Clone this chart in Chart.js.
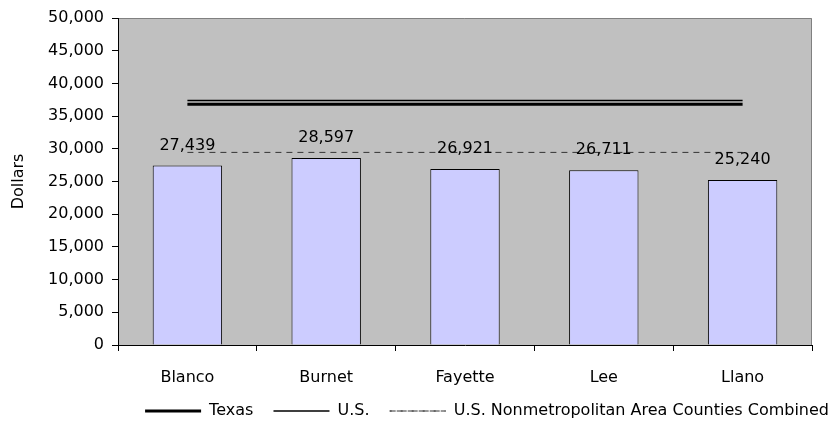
<!DOCTYPE html>
<html>
<head>
<meta charset="utf-8">
<script src="https://cdn.jsdelivr.net/npm/chart.js@4.4.1/dist/chart.umd.min.js"></script>
<style>
  html, body { margin: 0; padding: 0; background: #fff; }
  #wrap { width: 831px; height: 429px; }
</style>
</head>
<body>
<div id="wrap"><canvas id="incomeChart"></canvas></div>
<script>
var counties = ["Blanco", "Burnet", "Fayette", "Lee", "Llano"];
var countyIncome = [27439, 28597, 26921, 26711, 25240];
var texasIncome = [36800, 36800, 36800, 36800, 36800];
var usIncome = [37400, 37400, 37400, 37400, 37400];
var nonmetroIncome = [29450, 29450, 29450, 29450, 29450];

var fontFamily = "'DejaVu Sans', Verdana, sans-serif";
var fontSize = 16;

// grey plot background with a thin grey frame on top and right
var plotBackground = {
    id: 'plotBackground',
    beforeDraw: function (chart) {
        var a = chart.chartArea;
        var c = chart.ctx;
        c.save();
        c.fillStyle = '#C0C0C0';
        c.fillRect(a.left, a.top, a.right - a.left, a.bottom - a.top);
        c.strokeStyle = '#808080';
        c.lineWidth = 1;
        c.beginPath();
        c.moveTo(a.left, a.top + 0.5);
        c.lineTo(a.right - 0.5, a.top + 0.5);
        c.lineTo(a.right - 0.5, a.bottom);
        c.stroke();
        c.restore();
    }
};

// value labels above the county bars
var barValues = {
    id: 'barValues',
    afterDatasetsDraw: function (chart) {
        var c = chart.ctx;
        var meta = chart.getDatasetMeta(0);
        c.save();
        c.font = fontSize + 'px ' + fontFamily;
        c.fillStyle = '#000';
        c.textAlign = 'center';
        c.textBaseline = 'middle';
        meta.data.forEach(function (bar, i) {
            c.fillText(countyIncome[i].toLocaleString('en-US'), bar.x, bar.y - 20);
        });
        c.restore();
    }
};

var ctx = document.getElementById('incomeChart').getContext('2d');

var incomeChart = new Chart(ctx, {
    data: {
        labels: counties,
        datasets: [{
            type: 'bar',
            label: 'County',
            data: countyIncome,
            backgroundColor: '#CCCCFF',
            borderColor: '#000',
            borderWidth: 1,
            categoryPercentage: 1,
            barPercentage: 0.5,
            order: 4
        }, {
            type: 'line',
            label: 'Texas',
            data: texasIncome,
            borderColor: '#000',
            borderWidth: 3,
            pointRadius: 0,
            order: 1
        }, {
            type: 'line',
            label: 'U.S.',
            data: usIncome,
            borderColor: '#000',
            borderWidth: 1.5,
            pointRadius: 0,
            order: 2
        }, {
            type: 'line',
            label: 'U.S. Nonmetropolitan Area Counties Combined',
            data: nonmetroIncome,
            borderColor: '#333',
            borderWidth: 1,
            borderDash: [6, 5],
            pointRadius: 0,
            order: 3
        }]
    },
    options: {
        responsive: true,
        maintainAspectRatio: false,
        animation: false,
        layout: {
            // negative right padding lets the legend row run to the edge
            padding: { left: 0, right: -8, top: 18, bottom: 0 }
        },
        scales: {
            x: {
                grid: {
                    offset: true,
                    drawOnChartArea: false,
                    color: '#000',
                    tickLength: 6
                },
                border: { color: '#000' },
                ticks: {
                    color: '#000',
                    font: { family: fontFamily, size: fontSize },
                    padding: 17
                },
                afterFit: function (scale) { scale.height = 48; }
            },
            y: {
                min: 0,
                max: 50000,
                ticks: {
                    stepSize: 5000,
                    color: '#000',
                    font: { family: fontFamily, size: fontSize },
                    padding: 8,
                    callback: function (v) { return v.toLocaleString('en-US'); }
                },
                grid: {
                    drawOnChartArea: false,
                    color: '#000',
                    tickLength: 6
                },
                border: { color: '#000' },
                title: {
                    display: true,
                    text: 'Dollars',
                    color: '#000',
                    font: { family: fontFamily, size: fontSize },
                    padding: { top: 9, bottom: 0 }
                },
                afterFit: function (scale) { scale.width = 118; }
            },
            // empty axis that only keeps space to the right of the plot
            yRight: {
                position: 'right',
                ticks: { display: false },
                grid: { display: false },
                border: { display: false },
                afterFit: function (scale) { scale.width = 27; }
            }
        },
        plugins: {
            legend: {
                position: 'bottom',
                align: 'end',
                labels: {
                    color: '#000',
                    font: { family: fontFamily, size: fontSize },
                    boxWidth: 56,
                    boxHeight: 0,
                    padding: 10,
                    filter: function (item) { return item.datasetIndex > 0; },
                    generateLabels: function (chart) {
                        var last = chart.data.datasets.length - 1;
                        return chart.data.datasets.map(function (ds, i) {
                            return {
                                // trailing spaces widen the gap to the next entry
                                text: i < last ? ds.label + '  ' : ds.label,
                                datasetIndex: i,
                                fillStyle: 'rgba(0,0,0,0)',
                                strokeStyle: ds.borderColor,
                                lineWidth: ds.borderWidth,
                                lineDash: ds.borderDash ? [6, 5] : [],
                                fontColor: '#000',
                                hidden: false
                            };
                        });
                    }
                }
            },
            tooltip: { enabled: false }
        }
    },
    plugins: [plotBackground, barValues]
});
</script>
</body>
</html>
